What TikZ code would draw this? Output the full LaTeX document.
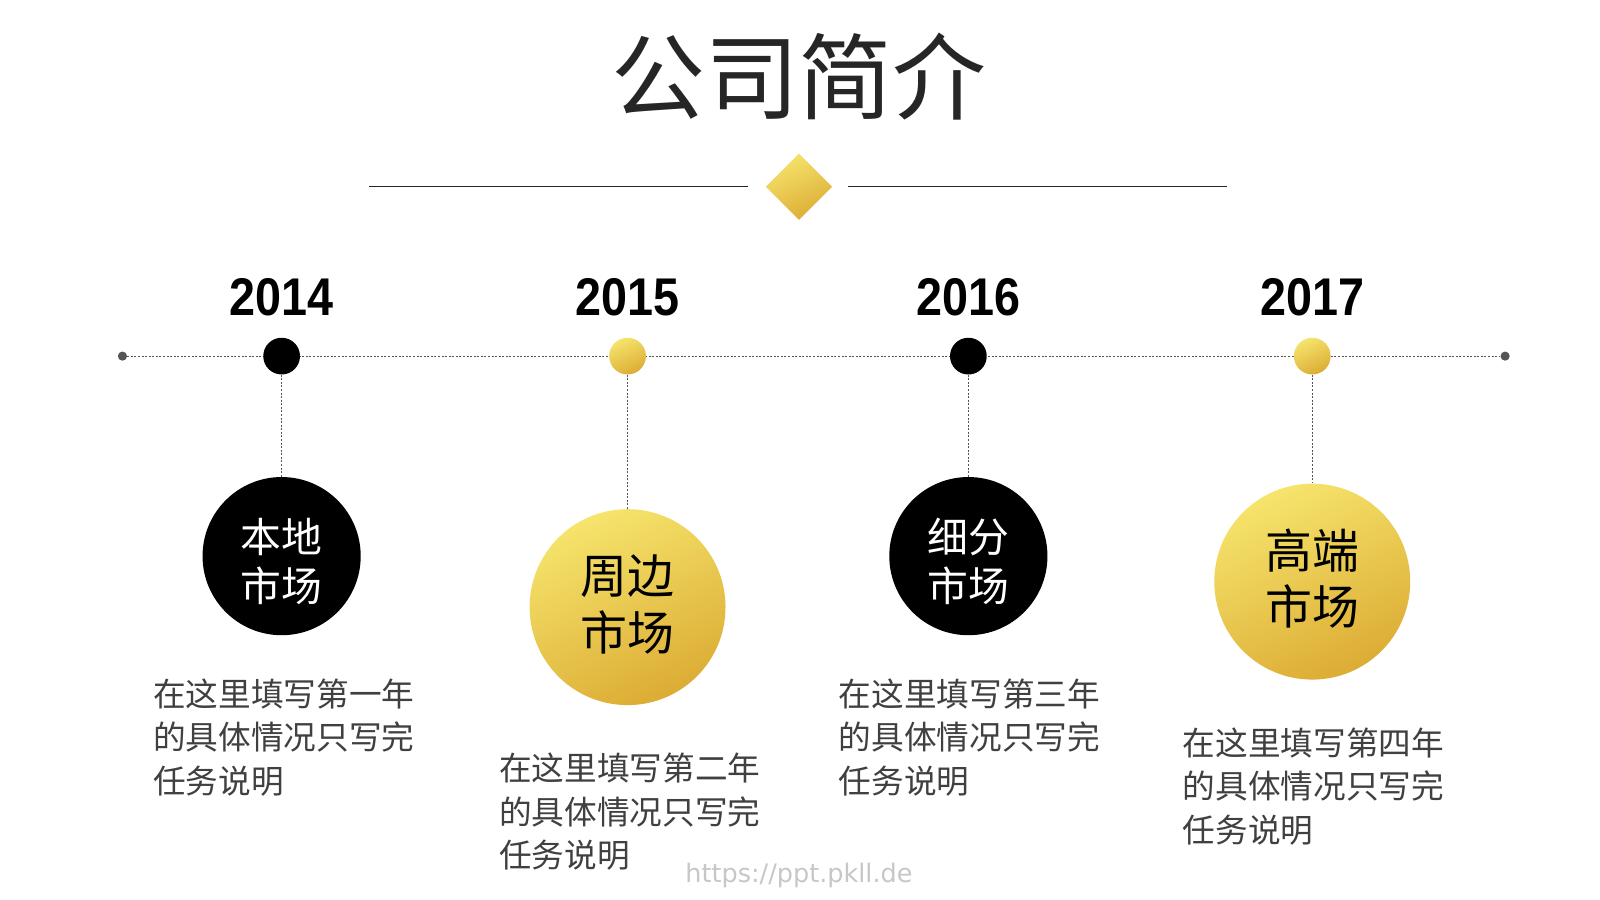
\documentclass[tikz,border=0pt]{standalone}
\usepackage{fontspec}
\usetikzlibrary{shapes.geometric}
\newfontfamily\cjk{Noto Sans CJK SC}
\newfontfamily\yearf[FakeStretch=0.88]{Liberation Sans}
\newfontfamily\wmfont{DejaVu Sans}
\definecolor{goldA}{HTML}{F6E46C}
\definecolor{goldB}{HTML}{DCAC34}
\definecolor{titlec}{HTML}{262626}
\definecolor{descc}{HTML}{404040}
\definecolor{linec}{HTML}{555555}
\newcommand{\balltxt}[3]{\raisebox{#3}[0pt][0pt]{\begin{tabular}{@{}c@{}}#1\\#2\end{tabular}}}
\tikzset{
  golds/.style={top color=goldA, bottom color=goldB, shading angle=25},
  tline/.style={linec, line width=0.8pt, dash pattern=on 2pt off 1.5pt},
  vline/.style={linec, line width=0.7pt, dash pattern=on 2pt off 1.5pt},
  blackdot/.style={circle, fill=black, minimum size=36pt, inner sep=0pt},
  golddot/.style={circle, golds, minimum size=36pt, inner sep=0pt},
  enddot/.style={circle, fill=linec, minimum size=9pt, inner sep=0pt},
  yearlab/.style={anchor=base, font=\yearf\bfseries\fontsize{52}{60}\selectfont},
  blackball/.style={circle, fill=black, minimum size=155pt, inner sep=0pt, text=white, font=\cjk\fontsize{40}{46}\selectfont},
  goldball/.style={circle, golds, minimum size=192pt, inner sep=0pt, text=black, font=\cjk\fontsize{46}{55}\selectfont},
  desc/.style={anchor=north west, inner sep=0pt, text=descc, align=left, font=\cjk\fontsize{32}{42.5}\selectfont},
}
\begin{document}
\begin{tikzpicture}[x=1pt,y=-1pt]
\useasboundingbox[fill=white] (0,0) rectangle (1568,882);
% title
\node[text=titlec, font=\cjk\fontsize{92}{100}\selectfont] (title) at (783,75) {公司简介};
% decoration
\node[diamond, golds, minimum width=65pt, minimum height=65pt, inner sep=0pt] (dia) at (783,183) {};
\coordinate (l1) at (362,183);
\coordinate (l2) at (733,183);
\coordinate (r1) at (831,183);
\coordinate (r2) at (1202,183);
\draw[titlec, line width=0.8pt] (l1) -- (l2);
\draw[titlec, line width=0.8pt] (r1) -- (r2);
% timeline
\node[enddot] (e1) at (120,349) {};
\node[enddot] (e2) at (1475,349) {};
\draw[tline] (e1) -- (e2);
\node[blackdot] (d1) at (276,349) {};
\node[golddot] (d2) at (615,349) {};
\node[blackdot] (d3) at (949,349) {};
\node[golddot] (d4) at (1286,349) {};
% years
\node[yearlab] (y1) at (276,309) {2014};
\node[yearlab] (y2) at (615,309) {2015};
\node[yearlab] (y3) at (949,309) {2016};
\node[yearlab] (y4) at (1286,309) {2017};
% balls
\node[blackball] (b1) at (276,545) {\balltxt{本地}{市场}{-17pt}};
\node[goldball] (b2) at (615,595) {\balltxt{周边}{市场}{-9.5pt}};
\node[blackball] (b3) at (949,545) {\balltxt{细分}{市场}{-17pt}};
\node[goldball] (b4) at (1286,570) {\balltxt{高端}{市场}{-9.5pt}};
\draw[vline] (d1) -- (b1);
\draw[vline] (d2) -- (b2);
\draw[vline] (d3) -- (b3);
\draw[vline] (d4) -- (b4);
% descriptions
\node[desc] (t1) at (150,665) {在这里填写第一年\\的具体情况只写完\\任务说明};
\node[desc] (t2) at (489,738) {在这里填写第二年\\的具体情况只写完\\任务说明};
\node[desc] (t3) at (822,665) {在这里填写第三年\\的具体情况只写完\\任务说明};
\node[desc] (t4) at (1159,713) {在这里填写第四年\\的具体情况只写完\\任务说明};
% watermark
\node[text=black!22, font=\wmfont\fontsize{25}{27}\selectfont] (wm) at (783,858) {https://ppt.pkll.de};
\end{tikzpicture}
\end{document}
